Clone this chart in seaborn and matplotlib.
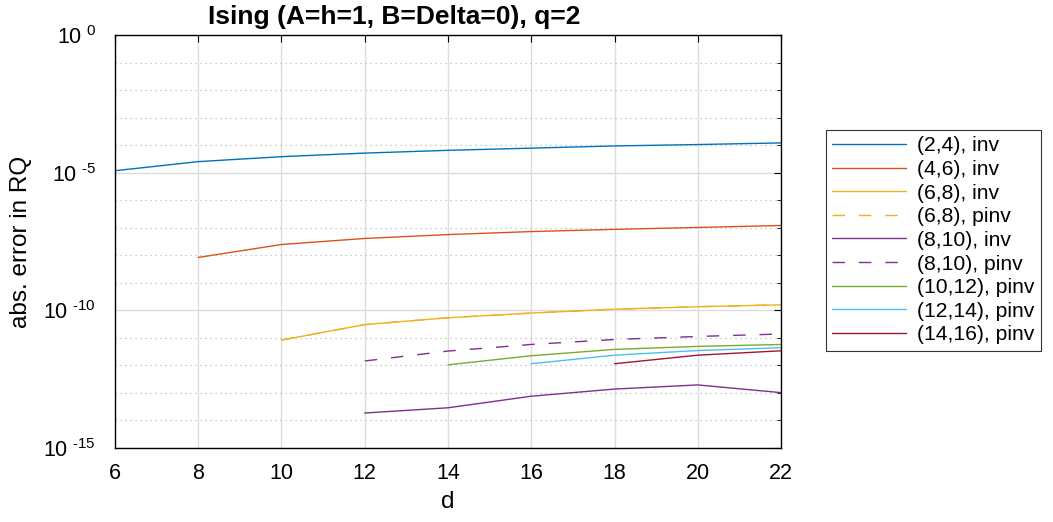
import numpy as np
import pandas as pd
import matplotlib
matplotlib.use("Agg")
import matplotlib.pyplot as plt
import matplotlib.ticker as ticker
import seaborn as sns

# values (log10 of abs. error)
d_24 = [6, 8, 10, 12, 14, 16, 18, 20, 22]
err_24_inv = [-4.93, -4.60, -4.42, -4.29, -4.19, -4.11, -4.03, -3.98, -3.92]
d_46 = [8, 10, 12, 14, 16, 18, 20, 22]
err_46_inv = [-8.08, -7.61, -7.39, -7.25, -7.14, -7.06, -6.99, -6.92]
d_68 = [10, 12, 14, 16, 18, 20, 22]
err_68_inv = [-11.08, -10.52, -10.27, -10.10, -9.96, -9.87, -9.80]
err_68_pinv = [-11.08, -10.52, -10.27, -10.10, -9.96, -9.87, -9.80]
d_810 = [12, 14, 16, 18, 20, 22]
err_810_inv = [-13.73, -13.54, -13.12, -12.86, -12.71, -12.99]
err_810_pinv = [-11.84, -11.48, -11.24, -11.06, -10.95, -10.86]
d_1012 = [14, 16, 18, 20, 22]
err_1012_pinv = [-11.98, -11.65, -11.42, -11.31, -11.24]
d_1214 = [16, 18, 20, 22]
err_1214_pinv = [-11.94, -11.63, -11.46, -11.36]
d_1416 = [18, 20, 22]
err_1416_pinv = [-11.94, -11.63, -11.47]

dashed = (0, (9, 10))
series = [
    ("(2,4), inv", d_24, err_24_inv, "#0072BD", "-"),
    ("(4,6), inv", d_46, err_46_inv, "#D95319", "-"),
    ("(6,8), inv", d_68, err_68_inv, "#EDB120", "-"),
    ("(6,8), pinv", d_68, err_68_pinv, "#EDB120", dashed),
    ("(8,10), inv", d_810, err_810_inv, "#7E2F8E", "-"),
    ("(8,10), pinv", d_810, err_810_pinv, "#7E2F8E", dashed),
    ("(10,12), pinv", d_1012, err_1012_pinv, "#77AC30", "-"),
    ("(12,14), pinv", d_1214, err_1214_pinv, "#4DBEEE", "-"),
    ("(14,16), pinv", d_1416, err_1416_pinv, "#A2142F", "-"),
]

sns.set_style("white")
plt.rcParams['font.family'] = ['Liberation Sans', 'DejaVu Sans']
plt.rcParams['mathtext.fontset'] = 'custom'
plt.rcParams['mathtext.rm'] = 'Liberation Sans'
plt.rcParams['text.color'] = 'black'
plt.rcParams['axes.labelcolor'] = 'black'

fig = plt.figure(figsize=(10.53, 5.22), dpi=100)
ax = fig.add_axes([0.1092, 0.1418, 0.6325, 0.7912])

for name, d, err, col, ls in series:
    df = pd.DataFrame({"d": d, "err": 10.0 ** np.array(err)})
    sns.lineplot(data=df, x="d", y="err", ax=ax, color=col, linestyle=ls,
                 linewidth=1.0, label=name)

ax.set_yscale("log")
ax.set_xlim(6, 22)
ax.set_ylim(1e-15, 1e0)
ax.set_xticks(range(6, 23, 2))
ax.yaxis.set_major_locator(ticker.FixedLocator([1e-15, 1e-10, 1e-5, 1e0]))
ax.yaxis.set_minor_locator(ticker.FixedLocator([10.0 ** k for k in range(-15, 1)]))
ax.yaxis.set_minor_formatter(ticker.NullFormatter())
ax.yaxis.set_major_formatter(ticker.FuncFormatter(
    lambda v, p: r"$10^{\ \text{-}%d}$" % abs(int(round(np.log10(v))))
    if v < 0.5 else r"$10^{\ 0}$"))

ax.grid(True, which="major", color="#dcdcdc", linewidth=1.0, linestyle="-")
ax.grid(True, which="minor", axis="y", color="#b8b8b8", linewidth=0.9,
        linestyle=(0, (1, 3)))
ax.set_axisbelow(True)
ax.tick_params(which="both", direction="in", top=True, right=True,
               labelsize=15.5, colors="black", length=5)
ax.tick_params(axis="x", pad=11)
ax.tick_params(axis="y", pad=14)
ax.tick_params(which="minor", length=3)
for s in ax.spines.values():
    s.set_color("black")
    s.set_linewidth(1.0)

ax.set_xlabel("d", fontsize=17.5, labelpad=5)
ax.set_ylabel("abs. error in RQ", fontsize=17.5, labelpad=8)
ax.set_title("Ising (A=h=1, B=Delta=0), q=2", fontsize=19, fontweight="bold",
             pad=8, color="black", x=0.419)

leg = ax.legend(loc="upper left", bbox_to_anchor=(1.0676, 0.770), fontsize=15.2,
                frameon=True, fancybox=False, edgecolor="black", handlelength=3.5,
                borderpad=0.3, labelspacing=0.22, handletextpad=0.5,
                borderaxespad=0)
leg.get_frame().set_linewidth(0.8)
for t in leg.get_texts():
    t.set_color("black")

fig.savefig("out.png", dpi=100)
